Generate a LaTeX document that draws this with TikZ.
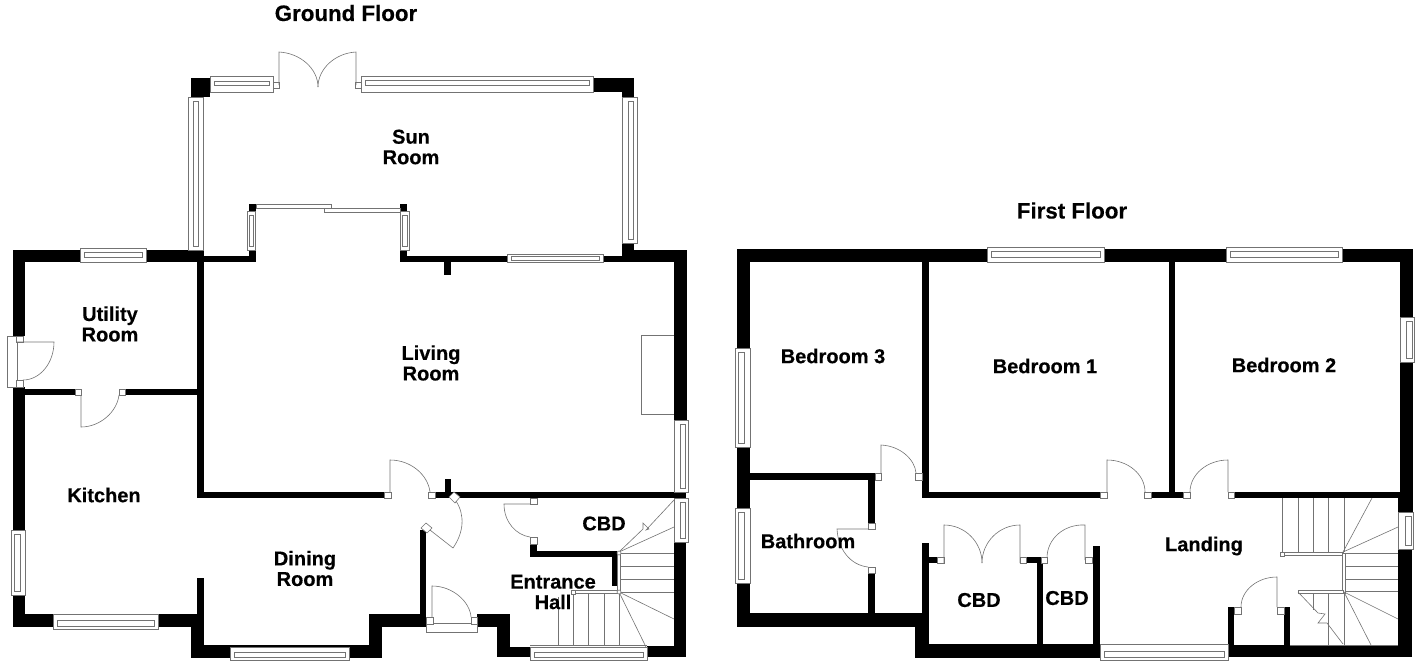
\documentclass[tikz,border=0pt]{standalone}
\usepackage{fontspec}
\setmainfont[BoldFeatures={FakeBold=0.4}]{Liberation Sans}
\usetikzlibrary{calc}
\tikzset{
  wallfill/.style={fill=black,draw=none},
  win/.style={draw=black!55,fill=white,line width=0.6pt},
  thinline/.style={draw=black!55,line width=0.6pt},
  roomlabel/.style={font=\bfseries\fontsize{20}{20.5}\selectfont,align=center,inner sep=0pt,text=black},
  titlelabel/.style={font=\bfseries\fontsize{22.3}{24}\selectfont,align=center,inner sep=0pt,text=black}
}
\newcommand{\W}[4]{\fill[wallfill] (#1,#2) rectangle (#3,#4);}
\newcommand{\J}[4]{\draw[win] (#1,#2) rectangle (#3,#4);}
\newcommand{\winH}[6]{\draw[win] (#1,#2) rectangle (#3,#4); \draw[win] (#1+4,#5) rectangle (#3-4,#6);}
\newcommand{\winV}[6]{\draw[win] (#1,#2) rectangle (#3,#4); \draw[win] (#5,#2+4) rectangle (#6,#4-4);}
% hinge, leaf tip, arc end
\newcommand{\door}[6]{\draw[thinline] (#1,#2)--(#3,#4) .. controls ($(#3,#4)+.55*(#5,#6)-.55*(#1,#2)$) and ($(#5,#6)+.55*(#3,#4)-.55*(#1,#2)$) .. (#5,#6);}
\newcommand{\LN}[4]{\draw[thinline] (#1,#2)--(#3,#4);}
\begin{document}
\begin{tikzpicture}[x=1pt,y=-1pt]
\useasboundingbox (0,0) rectangle (1416,665);
% ---------- GROUND FLOOR walls ----------
\W{191}{78}{210}{97}
\W{593}{78}{634}{92}
\W{622}{78}{634}{97}
\W{13}{250}{203}{262}
\W{13}{250}{25}{336}
\W{197}{250}{204}{498}
\W{203}{256}{255}{262}
\W{249}{204}{256}{262}
\W{400}{204}{407}{211}
\W{400}{250}{407}{262}
\W{400}{256}{510}{262}
\W{444}{256}{451}{275}
\W{600}{256}{634}{262}
\W{622}{243}{634}{262}
\W{622}{250}{687}{262}
\W{674}{250}{687}{420}
\W{674}{492}{686}{498}
\W{674}{542}{686}{657}
\W{647}{646}{686}{657}
\W{13}{387}{25}{530}
\W{13}{595}{25}{627}
\W{13}{614}{204}{627}
\W{25}{389}{75}{395}
\W{125}{389}{197}{395}
\W{197}{578}{204}{658}
\W{191}{627}{204}{658}
\W{191}{645}{382}{658}
\W{369}{614}{382}{658}
\W{369}{614}{426}{627}
\W{420}{530}{426}{627}
\W{197}{492}{384}{498}
\W{435}{492}{674}{498}
\W{445}{479}{451}{492}
\W{477}{614}{510}{627}
\W{497}{614}{510}{657}
\W{497}{647}{530}{657}
\W{530}{544}{537}{557}
\W{530}{551}{617}{557}
\W{612}{551}{617}{586}
% ---------- GROUND FLOOR windows ----------
\winH{210}{76}{273}{92}{81}{85}
\winH{361}{76}{593}{92}{80}{85}
\winV{188}{97}{203}{250}{193}{198}
\winV{622}{97}{637}{243}{628}{633}
\winH{80}{248}{146}{262}{252}{257}
\winH{507}{254}{603}{262}{256}{260}
\winV{247}{211}{255}{250}{249}{253}
\winV{400}{211}{409}{250}{402}{407}
\winV{674}{420}{688}{492}{680}{685}
\winV{674}{498}{688}{542}{680}{685}
\winV{11}{530}{25}{595}{14}{20}
\winH{53}{614}{158}{629}{620}{626}
\winH{230}{647}{349}{660}{652}{657}
\winH{530}{647}{647}{660}{652}{657}
% sliding doors
\J{256}{204}{331}{208}
\J{324}{208}{400}{212}
% French doors
\J{273}{82}{279}{88}
\J{355}{82}{361}{88}
\door{279}{85}{279}{52}{318}{87}
\door{356}{85}{356}{52}{318}{87}
% utility external door
\J{7}{336}{17}{387}
\J{16}{336}{23}{342}
\J{16}{380}{23}{387}
\draw[thinline] (16,342)--(54,342) .. controls (54,363) and (40,380) .. (23,380);
% kitchen door
\J{75}{389}{81}{395}
\J{119}{389}{125}{395}
\draw[thinline] (81,395)--(81,427) .. controls (100,427) and (117,412) .. (119,395);
% living door
\J{384}{492}{391}{498}
\J{428}{492}{435}{498}
\draw[thinline] (390,492)--(390,460) .. controls (411,460) and (428,475) .. (430,492);
% hall diagonal door
\draw[win] (449,497)--(454,492)--(460,497)--(455,503)--cycle;
\draw[win] (421,528)--(426,523)--(432,528)--(427,533)--cycle;
\draw[thinline] (430,530)--(453,548) .. controls (464,532) and (465,515) .. (456,501);
% cupboard door under stair
\J{530}{498}{537}{504}
\J{530}{537}{537}{544}
\draw[thinline] (530,504)--(504,504) .. controls (504,522) and (516,535) .. (530,537);
% front door
\J{426}{623}{477}{632}
\J{426}{617}{433}{624}
\J{471}{617}{477}{624}
\draw[thinline] (432,617)--(432,586) .. controls (453,586) and (470,602) .. (471,617);
% fireplace
\draw[thinline] (674,335)--(641,335)--(641,414)--(674,414);
% stairs ground floor
\LN{619}{553}{674}{553}
\LN{619}{566}{674}{566}
\LN{619}{579}{674}{579}
\LN{619}{592}{674}{592}
\LN{619}{552}{674}{527}
\LN{619}{592}{674}{619}
\LN{619}{592}{646}{647}
\draw[thinline] (619,552)--(643,529)--(643,523)--(649,529)--(646,530)--(674,500);
\J{573}{590}{619}{593}
\J{617}{553}{620}{592}
\LN{558}{597}{558}{646}
\LN{573}{593}{573}{646}
\LN{588}{593}{588}{646}
\LN{604}{593}{604}{646}
\LN{619}{593}{619}{646}
\LN{530}{645}{647}{645}
\draw[win] (619,553) circle (2);
\draw[win] (619,592) circle (2);
\J{571}{590}{575}{594}
% ---------- FIRST FLOOR walls ----------
\W{737}{249}{1413}{262}
\W{737}{249}{750}{348}
\W{737}{446}{750}{508}
\W{737}{583}{750}{627}
\W{737}{613}{929}{627}
\W{923}{249}{929}{262}
\W{922}{262}{929}{498}
\W{922}{492}{1100}{498}
\W{1151}{492}{1183}{498}
\W{1169}{262}{1175}{492}
\W{1234}{492}{1398}{498}
\W{1400}{249}{1413}{317}
\W{1400}{362}{1413}{512}
\W{1398}{492}{1412}{512}
\W{1398}{549}{1412}{657}
\W{1228}{645}{1412}{657}
\W{750}{473}{868}{480}
\W{868}{473}{875}{523}
\W{868}{573}{875}{613}
\W{922}{543}{929}{613}
\W{915}{613}{929}{658}
\W{915}{644}{1100}{658}
\W{929}{557}{937}{563}
\W{1026}{557}{1043}{563}
\W{1037}{557}{1043}{644}
\W{1093}{546}{1100}{644}
\W{1228}{607}{1234}{645}
\W{1284}{607}{1290}{645}
% ---------- FIRST FLOOR windows ----------
\winH{987}{247}{1104}{262}{251}{257}
\winH{1226}{247}{1342}{262}{251}{257}
\winV{1400}{317}{1414}{362}{1406}{1412}
\winV{735}{348}{750}{447}{738}{744}
\winV{735}{508}{750}{583}{738}{744}
\winV{1398}{512}{1413}{549}{1405}{1411}
\winH{1100}{644}{1228}{660}{651}{657}
% first floor doors
\J{875}{473}{881}{480}
\J{915}{473}{922}{480}
\draw[thinline] (881,473)--(881,445) .. controls (901,446) and (915,460) .. (916,473);
\J{868}{523}{875}{529}
\J{868}{567}{875}{573}
\draw[thinline] (868,529)--(837,529) .. controls (838,549) and (850,565) .. (868,567);
\J{937}{557}{944}{563}
\J{1020}{557}{1026}{563}
\door{944}{563}{944}{525}{982}{563}
\door{1020}{563}{1020}{525}{982}{563}
\J{1041}{557}{1047}{563}
\J{1085}{557}{1092}{563}
\door{1085}{560}{1085}{525}{1047}{558}
\J{1100}{492}{1107}{498}
\J{1144}{492}{1151}{498}
\door{1107}{492}{1107}{460}{1145}{492}
\J{1183}{492}{1190}{498}
\J{1228}{492}{1234}{498}
\door{1228}{492}{1228}{460}{1190}{492}
\J{1234}{607}{1241}{614}
\J{1277}{607}{1284}{614}
\door{1277}{607}{1277}{577}{1241}{607}
% first floor stairs
\LN{1282}{498}{1282}{552}
\LN{1298}{498}{1298}{552}
\LN{1313}{498}{1313}{552}
\LN{1328}{498}{1328}{552}
\LN{1344}{498}{1344}{552}
\J{1282}{552}{1343}{555}
\J{1280}{552}{1284}{556}
\J{1342}{553}{1345}{593}
\J{1298}{590}{1343}{593}
\LN{1345}{553}{1398}{553}
\LN{1345}{566}{1398}{566}
\LN{1345}{579}{1398}{579}
\LN{1345}{591}{1398}{591}
\LN{1343}{552}{1372}{498}
\LN{1343}{552}{1398}{527}
\LN{1344}{592}{1398}{619}
\LN{1344}{592}{1371}{645}
\LN{1313}{593}{1313}{610}
\LN{1328}{593}{1328}{645}
\LN{1344}{593}{1344}{645}
\LN{1290}{645}{1398}{645}
\draw[thinline] (1298,592)--(1318,613)--(1325,614)--(1318,623)--(1327,623)--(1343,644);
% ---------- labels ----------
\node[titlelabel] (groundtitle) at (346,13) {Ground Floor};
\node[titlelabel] (firsttitle) at (1072,210.5) {First Floor};
\node[roomlabel] (sun) at (411,147) {Sun\\Room};
\node[roomlabel] (utility) at (110,324) {Utility\\Room};
\node[roomlabel] (living) at (431,363) {Living\\Room};
\node[roomlabel] (kitchen) at (104,495) {Kitchen};
\node[roomlabel] (dining) at (305,568.5) {Dining\\Room};
\node[roomlabel] (entrance) at (553,592) {Entrance\\Hall};
\node[roomlabel] (cbdg) at (604,523.5) {CBD};
\node[roomlabel] (bed3) at (833,356) {Bedroom 3};
\node[roomlabel] (bed1) at (1045,366) {Bedroom 1};
\node[roomlabel] (bed2) at (1284,365) {Bedroom 2};
\node[roomlabel] (bath) at (808,541) {Bathroom};
\node[roomlabel] (cbda) at (979,600) {CBD};
\node[roomlabel] (cbdb) at (1067,598) {CBD};
\node[roomlabel] (landing) at (1204,546) {Landing};
\end{tikzpicture}
\end{document}
